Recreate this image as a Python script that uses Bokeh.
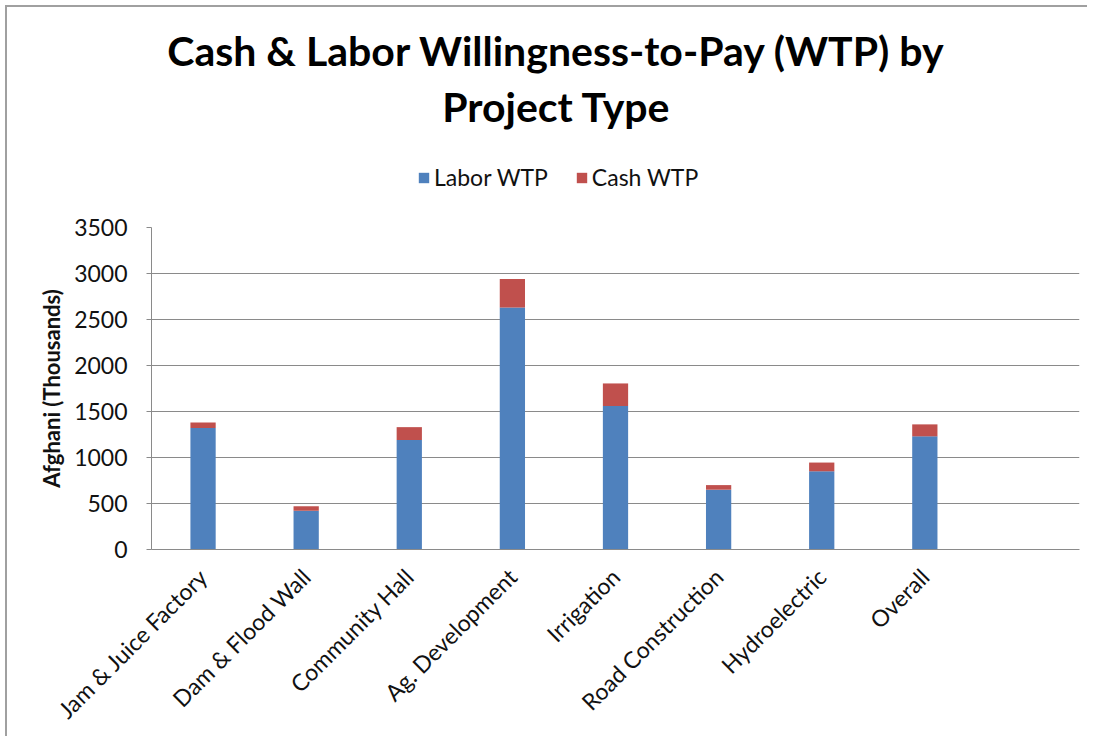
import math
from bokeh.plotting import figure
from bokeh.layouts import column
from bokeh.models import (FactorRange, Range1d, Label, Legend, LegendItem, FixedTicker)
from bokeh.embed import file_html
from bokeh.resources import INLINE

categories = ["Jam & Juice Factory", "Dam & Flood Wall", "Community Hall", "Ag. Development",
              "Irrigation", "Road Construction", "Hydroelectric", "Overall"]
labor_wtp = [1320, 420, 1190, 2630, 1560, 650, 850, 1230]
cash_wtp = [60, 50, 140, 310, 245, 50, 95, 130]
series = ["Labor WTP", "Cash WTP"]
colors = ["#4F81BD", "#C0504D"]
y_ticks = [0, 500, 1000, 1500, 2000, 2500, 3000, 3500]
title_lines = ["Cash & Labor Willingness-to-Pay (WTP) by", "Project Type"]
y_label = "Afghani (Thousands)"

FONT = "Lato"
factors = categories + [" "]

# ---------- header: title and legend ----------
head = figure(x_range=Range1d(0, 1), y_range=Range1d(0, 1),
              frame_width=1080, frame_height=206,
              min_border_left=0, min_border_right=0, min_border_top=0, min_border_bottom=0,
              output_backend="svg", toolbar_location=None, tools="")
head.axis.visible = False
head.grid.visible = False
head.outline_line_color = None
head.background_fill_color = "white"
head.border_fill_color = "white"

for line, base_y in zip(title_lines, [163, 107]):
    head.add_layout(Label(x=405, y=base_y, x_units="screen", y_units="screen", text=line,
                          text_align="center", text_baseline="alphabetic",
                          text_font=FONT, text_font_style="bold", text_font_size="41px",
                          text_color="#000000"))

# legend swatches (zero-size bars in the same colours as the stacked series)
swatches = [head.vbar(x=[0.5], top=[0], width=0, color=c, line_color=None) for c in colors]
legend = Legend(items=[LegendItem(label=s, renderers=[r]) for s, r in zip(series, swatches)],
                orientation="horizontal", location=(410, 22),
                label_text_font=FONT, label_text_font_size="23px", label_text_color="#111111",
                glyph_width=13, glyph_height=13, label_standoff=4, spacing=27,
                padding=0, margin=0, border_line_color=None, background_fill_alpha=0)
head.add_layout(legend, "center")

# ---------- chart ----------
p = figure(x_range=FactorRange(factors=factors, range_padding=0), y_range=Range1d(0, y_ticks[-1]),
           frame_width=928, frame_height=322,
           min_border_left=144, min_border_right=8, min_border_top=14, min_border_bottom=186,
           output_backend="svg", toolbar_location=None, tools="")
p.outline_line_color = None
p.background_fill_color = "white"
p.border_fill_color = "white"

data = {"cat": categories, "Labor WTP": labor_wtp, "Cash WTP": cash_wtp}
p.vbar_stack(series, x="cat", width=0.245, color=colors, line_color=None, source=data)

p.xgrid.grid_line_color = None
p.ygrid.grid_line_color = "#8A8A8A"
p.ygrid.grid_line_width = 1
p.yaxis.ticker = FixedTicker(ticks=y_ticks)
p.yaxis.minor_tick_line_color = None
p.yaxis.major_tick_out = 5
p.yaxis.major_tick_in = 0
p.yaxis.major_tick_line_color = "#8A8A8A"
p.yaxis.axis_line_color = "#8A8A8A"
p.yaxis.major_label_text_font = FONT
p.yaxis.major_label_text_font_size = "23px"
p.yaxis.major_label_text_color = "#111111"
p.yaxis.major_label_standoff = 19
p.yaxis.axis_label = y_label
p.yaxis.axis_label_text_font = FONT
p.yaxis.axis_label_text_font_size = "22px"
p.yaxis.axis_label_text_font_style = "bold"
p.yaxis.axis_label_text_color = "#111111"
p.yaxis.axis_label_standoff = 6

p.xaxis.axis_line_color = "#8A8A8A"
p.xaxis.major_tick_line_color = None
p.xaxis.minor_tick_line_color = None
p.xaxis.major_label_orientation = math.pi / 4
p.xaxis.major_label_text_font = FONT
p.xaxis.major_label_text_font_size = "23px"
p.xaxis.major_label_text_color = "#111111"
p.xaxis.major_label_standoff = 17

layout = column(head, p, spacing=0)
layout.styles = {"margin-left": "5px", "margin-top": "5px",
                 "border-left": "2px solid #A0A0A0", "border-top": "2px solid #A0A0A0"}

open("out.html", "w").write(file_html(layout, INLINE))
